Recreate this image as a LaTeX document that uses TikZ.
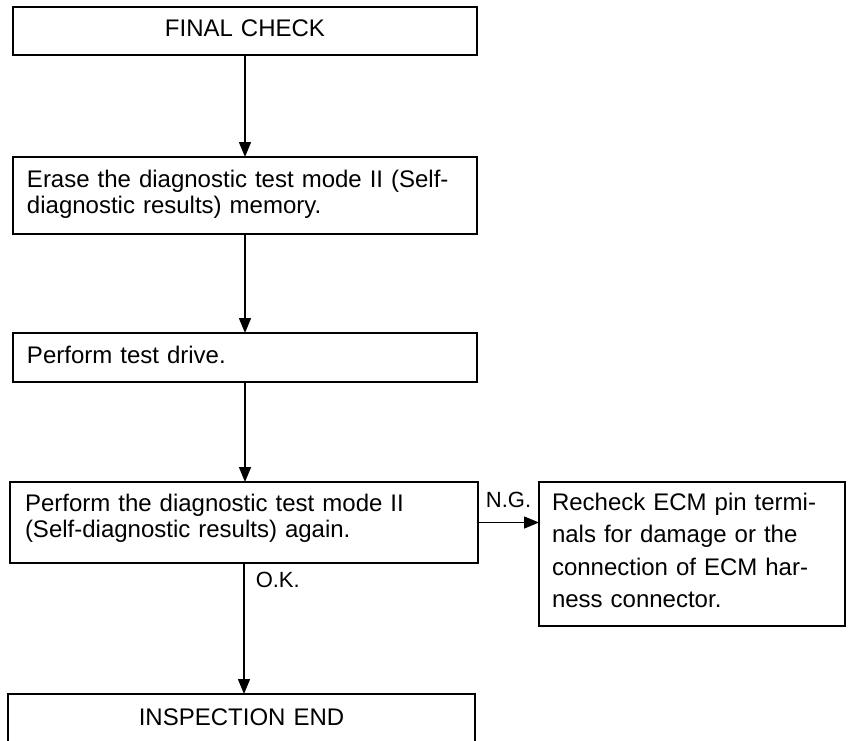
\documentclass[tikz,border=0pt]{standalone}
\usepackage{fontspec}
\setmainfont{Liberation Sans}
\usetikzlibrary{arrows.meta}
\begin{document}
\begin{tikzpicture}[x=1pt,y=-1pt,
  box/.style={draw, line width=1.8pt, anchor=north west, inner xsep=14pt, inner ysep=0pt, outer sep=0pt,
    font={\fontsize{24}{26}\selectfont}, align=left},
  arr/.style={line width=1.5pt, -{Triangle[length=15pt,width=12pt]}},
  lab/.style={inner sep=0pt, font={\fontsize{22}{24}\selectfont}}]
\useasboundingbox (0,0) rectangle (849,740);
\clip (0,0) rectangle (849,740);
\fill[white] (0,0) rectangle (849,740);

\node[box, align=center, text width=436pt, text height=29pt, text depth=19pt] (b1) at (13,7) {FINAL CHECK};
\node[box, text width=436pt, text height=30pt, text depth=47pt] (b2) at (13,157)
  {Erase the diagnostic test mode II (Self-\\diagnostic results) memory.};
\node[box, text width=436pt, text height=30pt, text depth=19pt] (b3) at (13,333) {Perform test drive.};
\node[box, inner xsep=15pt, text width=438pt, text height=29pt, text depth=52pt] (b4) at (10,482)
  {Perform the diagnostic test mode II\\(Self-diagnostic results) again.};
\node[box, inner xsep=13pt, text width=280pt, text height=28pt, text depth=116pt,
  font={\fontsize{24}{32.5}\selectfont}] (b5) at (539,482)
  {Recheck ECM pin termi-\\nals for damage or the\\connection of ECM har-\\ness connector.};
\node[box, align=center, text width=439pt, text height=31pt, text depth=40pt] (b6) at (8,694) {INSPECTION END};

\draw[arr] (b1.south) -- (b2.north);
\draw[arr] (b2.south) -- (b3.north);
\draw[arr] (b3.south) -- (b3.south |- b4.north);
\draw[arr] (b4.east) -- node[lab, above=14pt] (ng) {N.G.} (b4.east -| b5.west);
\draw[arr] (b4.south) -- node[lab, pos=0.13, anchor=west, xshift=11pt] (ok) {O.K.} (b4.south |- b6.north);
\end{tikzpicture}
\end{document}
